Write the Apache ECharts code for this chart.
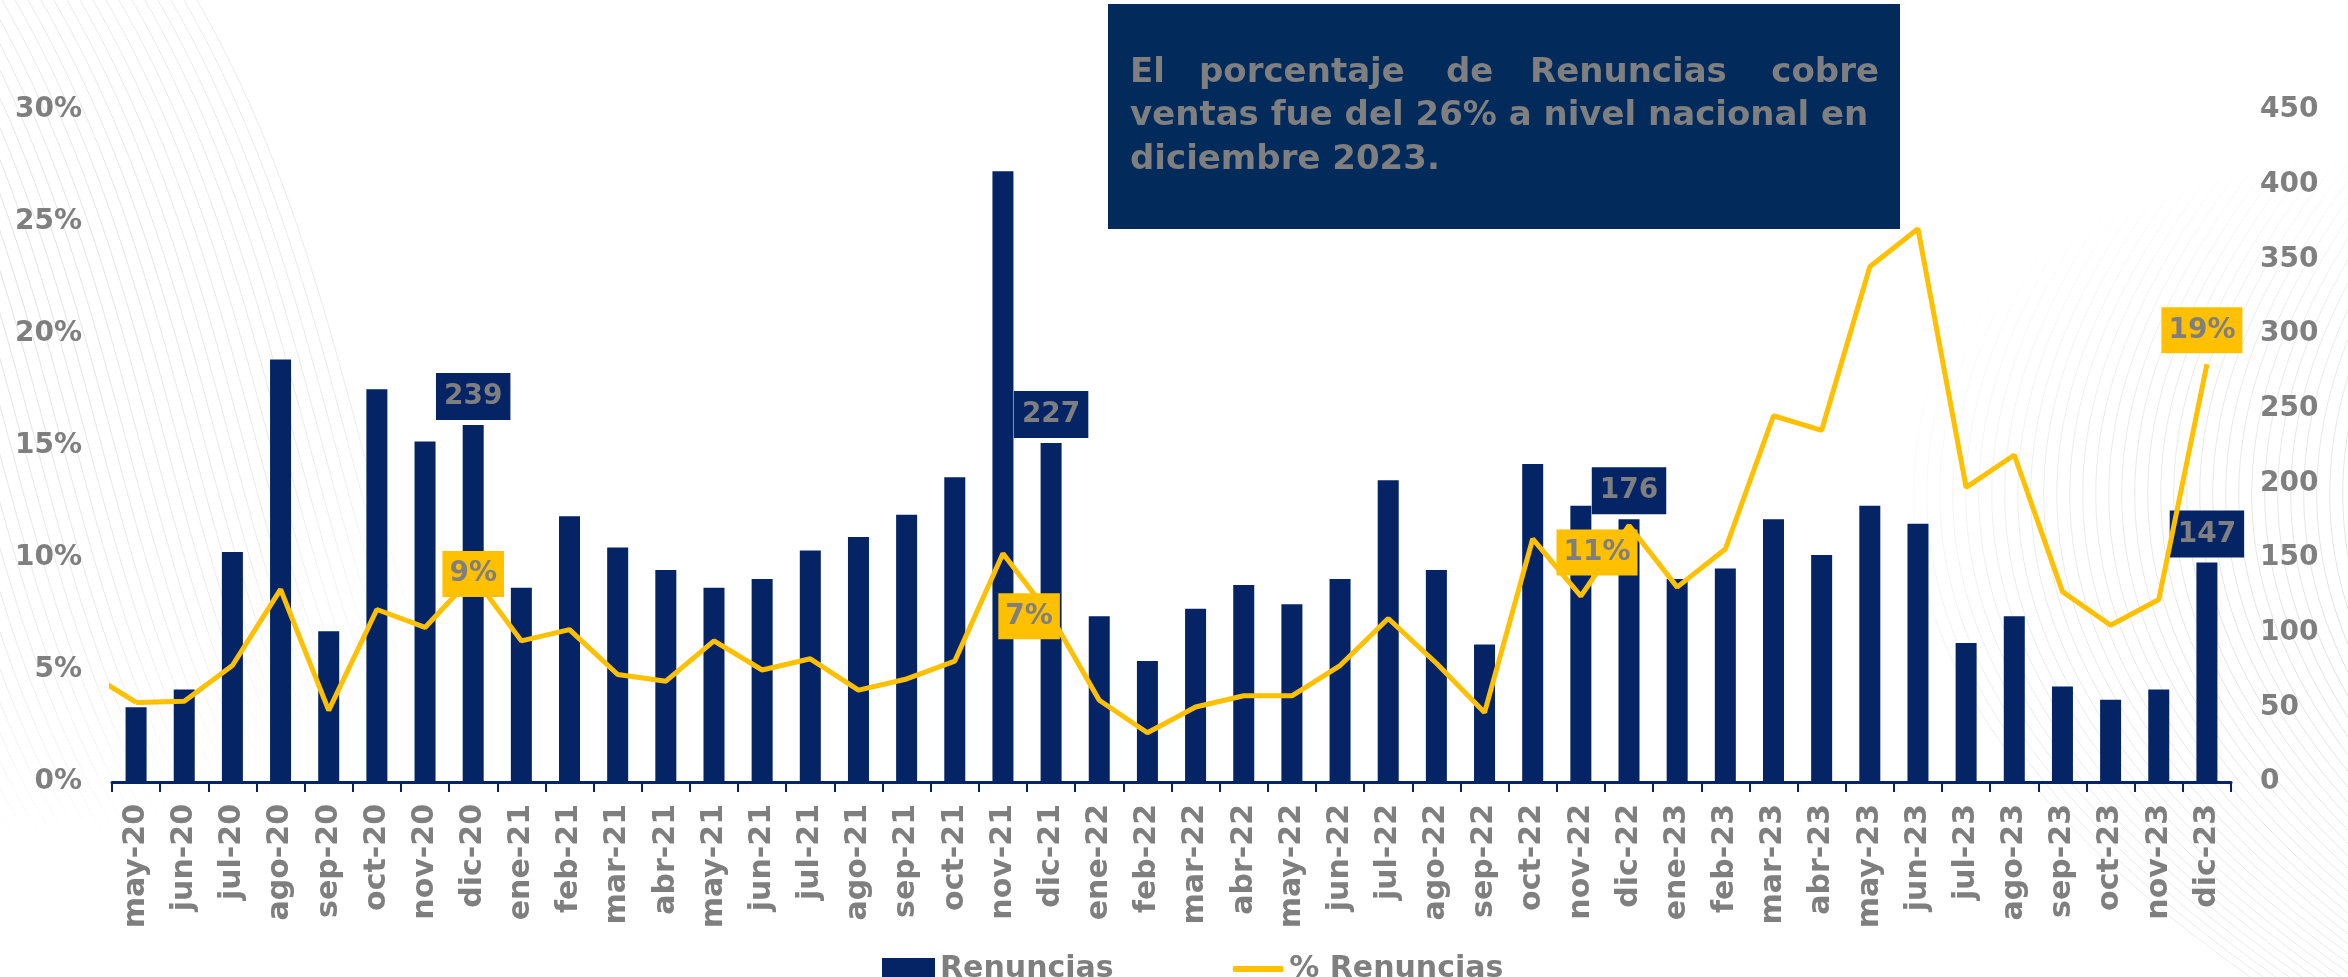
<!DOCTYPE html>
<html>
<head>
<meta charset="utf-8">
<title>Renuncias</title>
<script src="https://cdn.jsdelivr.net/npm/echarts@6/dist/echarts.min.js"></script>
<style>
    html, body { margin: 0; padding: 0; background: #fff; }
    #main { width: 2348px; height: 977px; }
</style>
</head>
<body>
<div id="main"></div>
<script>
// meses (eje x)
var months = [
    'may-20', 'jun-20', 'jul-20', 'ago-20', 'sep-20', 'oct-20', 'nov-20', 'dic-20',
    'ene-21', 'feb-21', 'mar-21', 'abr-21', 'may-21', 'jun-21', 'jul-21', 'ago-21', 'sep-21', 'oct-21', 'nov-21', 'dic-21',
    'ene-22', 'feb-22', 'mar-22', 'abr-22', 'may-22', 'jun-22', 'jul-22', 'ago-22', 'sep-22', 'oct-22', 'nov-22', 'dic-22',
    'ene-23', 'feb-23', 'mar-23', 'abr-23', 'may-23', 'jun-23', 'jul-23', 'ago-23', 'sep-23', 'oct-23', 'nov-23', 'dic-23'
];

// numero de renuncias (eje derecho)
var renuncias = [
    50, 62, 154, 283, 101, 263, 228, 239,
    130, 178, 157, 142, 130, 136, 155, 164, 179, 204, 409, 227,
    111, 81, 116, 132, 119, 136, 202, 142, 92, 213, 185, 176,
    136, 143, 176, 152, 185, 173, 93, 111, 64, 55, 62, 147
];

// % renuncias sobre ventas (eje izquierdo)
var pctRenuncias = [
    3.55, 3.6, 5.2, 8.6, 3.2, 7.7, 6.9, 9.2,
    6.3, 6.8, 4.8, 4.5, 6.3, 5.0, 5.5, 4.1, 4.6, 5.4, 10.2, 7.4,
    3.65, 2.2, 3.35, 3.85, 3.85, 5.2, 7.3, 5.3, 3.1, 10.85, 8.3, 11.45,
    8.7, 10.4, 16.35, 15.7, 23.0, 24.7, 13.15, 14.6, 8.5, 7.0, 8.15, 18.65
];
// abr-20: punto anterior que queda fuera del eje (solo se ve el tramo inicial)
var pctPrev = 4.9;

// ticks de los ejes
var pctTicks = [0, 5, 10, 15, 20, 25, 30];
var countTicks = [0, 50, 100, 150, 200, 250, 300, 350, 400, 450];

// meses con etiqueta (dic de cada año)
var labeledIdx = [7, 19, 31, 43];

var NAVY = '#042466';
var GOLD = '#ffc000';
var GRAY = '#7f7f7f';
var FONT = '"DejaVu Sans", sans-serif';

var myChart = echarts.init(document.getElementById('main'));

// offsets de las etiquetas amarillas
var pctLabelOffset = {7: [0, -2], 19: [-22, 0], 31: [-32, 27], 43: [-5, -34]};

var barData = renuncias.map(function (v, i) {
    if (labeledIdx.indexOf(i) < 0) return v;
    return {
        value: v,
        label: {
            show: true,
            position: 'top',
            distance: 5,
            backgroundColor: NAVY,
            padding: [10, 8, 9, 8],
            color: GRAY,
            fontFamily: FONT,
            fontWeight: 'bold',
            fontSize: 28
        }
    };
});

var lineData = pctRenuncias.map(function (v, i) {
    if (labeledIdx.indexOf(i) < 0) return v;
    return {
        value: v,
        symbol: 'circle',
        symbolSize: 1,
        label: {
            show: true,
            position: 'inside',
            offset: pctLabelOffset[i],
            formatter: function (p) { return Math.round(p.value) + '%'; },
            backgroundColor: GOLD,
            padding: [9, 7, 9, 7],
            color: GRAY,
            fontFamily: FONT,
            fontWeight: 'bold',
            fontSize: 28
        }
    };
});

// lineas decorativas del fondo (ondas grises tenues)
function fade(cx, cy, r) {
    return {
        type: 'radial', x: cx, y: cy, r: r, global: true,
        colorStops: [
            {offset: 0, color: 'rgba(190,190,190,0.45)'},
            {offset: 0.65, color: 'rgba(190,190,190,0.3)'},
            {offset: 1, color: 'rgba(190,190,190,0)'}
        ]
    };
}
var deco = [];
var leftFade = fade(0, 300, 560);
for (var k = 0; k < 70; k++) {
    var x0 = -700 + k * 13;
    deco.push({
        type: 'bezierCurve',
        silent: true,
        z: -10,
        shape: {x1: x0, y1: 0, cpx1: x0 + 200, cpy1: 350, cpx2: x0 + 150, cpy2: 700, x2: x0 + 420, y2: 977},
        style: {stroke: leftFade, lineWidth: 1, fill: null}
    });
}
var rightFade = fade(2348, 650, 520);
for (var j = 0; j < 50; j++) {
    var x1 = 1950 + j * 13;
    deco.push({
        type: 'bezierCurve',
        silent: true,
        z: -10,
        shape: {x1: x1 + 250, y1: 0, cpx1: x1 - 120, cpy1: 350, cpx2: x1 - 160, cpy2: 650, x2: x1 + 300, y2: 977},
        style: {stroke: rightFade, lineWidth: 1, fill: null}
    });
}

var textStyleBox = {fill: GRAY, font: 'bold 34px ' + FONT, textVerticalAlign: 'middle'};
function word(txt, x, y, align) {
    return {
        type: 'text',
        z: 11,
        style: Object.assign({text: txt, x: x, y: y, textAlign: align || 'left'}, textStyleBox)
    };
}

var option = {
    backgroundColor: '#ffffff',
    animation: false,
    grid: {
        left: 112,
        right: 117,
        top: 110,
        bottom: 195,
        containLabel: false,
        outerBoundsMode: 'none'
    },
    legend: {
        left: 877,
        top: 949,
        itemWidth: 53,
        itemHeight: 22,
        itemGap: 118,
        textStyle: {color: GRAY, fontFamily: FONT, fontWeight: 'bold', fontSize: 30},
        data: [
            {name: 'Renuncias', icon: 'rect'},
            {name: '% Renuncias', icon: 'path://M0,0 M0,22 M2,8 L51,8 Q53,11 51,14 L2,14 Q0,11 2,8 Z'}
        ]
    },
    xAxis: [{
        type: 'category',
        data: months,
        boundaryGap: true,
        axisLine: {show: true, lineStyle: {color: NAVY, width: 3}},
        axisTick: {show: true, length: 10, lineStyle: {color: NAVY, width: 2}},
        axisLabel: {
            interval: 0,
            rotate: 90,
            margin: 22,
            color: GRAY,
            fontFamily: FONT,
            fontWeight: 'bold',
            fontSize: 30
        },
        splitLine: {show: false}
    }, {
        // eje auxiliar oculto para el tramo inicial de la linea
        type: 'value',
        min: 0,
        max: months.length,
        show: false
    }],
    yAxis: [{
        type: 'value',
        position: 'left',
        min: pctTicks[0],
        max: pctTicks[pctTicks.length - 1],
        interval: pctTicks[1] - pctTicks[0],
        axisLine: {show: false},
        axisTick: {show: false},
        splitLine: {show: false},
        axisLabel: {
            formatter: '{value}%',
            margin: 30,
            color: GRAY,
            fontFamily: FONT,
            fontWeight: 'bold',
            fontSize: 28
        }
    }, {
        type: 'value',
        position: 'right',
        min: countTicks[0],
        max: countTicks[countTicks.length - 1],
        interval: countTicks[1] - countTicks[0],
        axisLine: {show: false},
        axisTick: {show: false},
        splitLine: {show: false},
        axisLabel: {
            margin: 29,
            color: GRAY,
            fontFamily: FONT,
            fontWeight: 'bold',
            fontSize: 28
        }
    }],
    series: [{
        name: 'Renuncias',
        type: 'bar',
        yAxisIndex: 1,
        barWidth: 21,
        data: barData,
        itemStyle: {color: NAVY},
        z: 2
    }, {
        name: '% Renuncias',
        type: 'line',
        yAxisIndex: 0,
        data: lineData,
        symbol: 'none',
        lineStyle: {color: GOLD, width: 5},
        itemStyle: {color: GOLD},
        z: 3
    }, {
        name: '% Renuncias',
        type: 'line',
        xAxisIndex: 1,
        yAxisIndex: 0,
        data: [[-0.5, pctPrev], [0.5, pctRenuncias[0]]],
        clip: true,
        symbol: 'none',
        lineStyle: {color: GOLD, width: 5},
        itemStyle: {color: GOLD},
        z: 3
    }],
    graphic: deco.concat([
        {
            type: 'rect',
            z: 10,
            shape: {x: 1108, y: 4, width: 792, height: 225},
            style: {fill: '#022b5b'}
        },
        word('El', 1130, 73),
        word('porcentaje', 1199, 73),
        word('de', 1446, 73),
        word('Renuncias', 1530, 73),
        word('cobre', 1879, 73, 'right'),
        word('ventas fue del 26% a nivel nacional en', 1130, 116),
        word('diciembre 2023.', 1130, 160)
    ])
};

myChart.setOption(option);
</script>
</body>
</html>
